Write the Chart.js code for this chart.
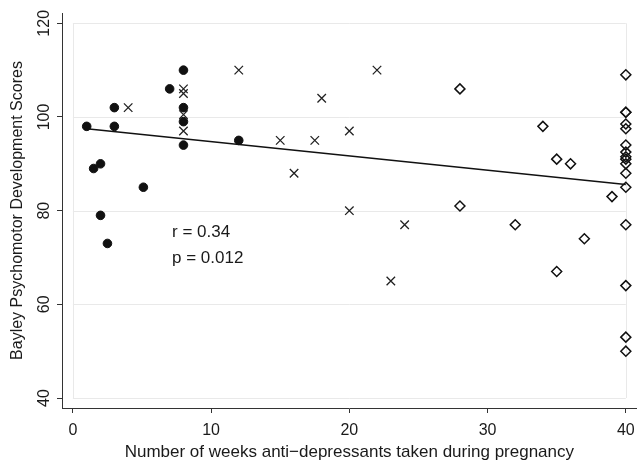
<!DOCTYPE html>
<html>
<head>
<meta charset="utf-8">
<script src="https://cdn.jsdelivr.net/npm/chart.js@4.4.1/dist/chart.umd.min.js"></script>
<style>
    html, body { margin: 0; padding: 0; background: #fff; }
    #wrap { width: 644px; height: 463px; }
</style>
</head>
<body>
<div id="wrap"><canvas id="scoreChart"></canvas></div>
<script>
// weeks on anti-depressants vs Bayley score, three groups
const circleWeeks = [1, 3, 3, 7, 8, 8, 8, 8, 12, 1.5, 2, 5.1, 2, 2.5]
const circleScores = [98, 102, 98, 106, 110, 102, 99, 94, 95, 89, 90, 85, 79, 73]

const crossWeeks = [4, 8, 8, 8, 8, 12, 15, 16, 17.5, 18, 20, 20, 22, 23, 24]
const crossScores = [102, 106, 105, 100.5, 97, 110, 95, 88, 95, 104, 97, 80, 110, 65, 77]

const diamondWeeks = [28, 28, 32, 34, 35, 35, 36, 37, 39,
    40, 40, 40, 40, 40, 40, 40, 40, 40, 40, 40, 40, 40, 40, 40, 40]
const diamondScores = [106, 81, 77, 98, 91, 67, 90, 74, 83,
    109, 101, 101, 98.5, 97.5, 94, 92.5, 91.5, 91, 90, 88, 85, 77, 64, 53, 50]

// fitted line end points
const fitWeeks = [1, 40]
const fitScores = [97.5, 85.6]

const xTicks = [0, 10, 20, 30, 40]
const yTicks = [40, 60, 80, 100, 120]

const statLines = ['r = 0.34', 'p = 0.012']

const toPoints = (xs, ys) => xs.map((x, i) => ({ x: x, y: ys[i] }))

document.addEventListener("DOMContentLoaded", () => {

    const family = '"Liberation Sans", Arial, sans-serif'
    Chart.defaults.font.family = family
    Chart.defaults.font.size = 16
    Chart.defaults.color = '#1a1a1a'

    const axisColor = '#333333'
    const gridColor = '#e9e9e9'

    // light box + horizontal grid, only inside the 0-40 / 40-120 region
    const plotBox = {
        id: 'plotBox',
        beforeDatasetsDraw(chart) {
            const { ctx, scales: { x, y } } = chart
            const x0 = x.getPixelForValue(xTicks[0])
            const x1 = x.getPixelForValue(xTicks[xTicks.length - 1])
            const y0 = y.getPixelForValue(yTicks[0])
            const y1 = y.getPixelForValue(yTicks[yTicks.length - 1])
            ctx.save()
            ctx.strokeStyle = gridColor
            ctx.lineWidth = 1
            ctx.beginPath()
            yTicks.forEach(v => {
                const py = Math.round(y.getPixelForValue(v)) + 0.5
                ctx.moveTo(x0, py)
                ctx.lineTo(x1, py)
            })
            ctx.moveTo(Math.round(x0) + 0.5, y0)
            ctx.lineTo(Math.round(x0) + 0.5, y1)
            ctx.moveTo(Math.round(x1) + 0.5, y0)
            ctx.lineTo(Math.round(x1) + 0.5, y1)
            ctx.stroke()
            ctx.restore()
        }
    }

    const statText = {
        id: 'statText',
        afterDatasetsDraw(chart) {
            const { ctx, scales: { x, y } } = chart
            ctx.save()
            ctx.fillStyle = '#1a1a1a'
            ctx.font = '17px ' + family
            ctx.textAlign = 'left'
            ctx.textBaseline = 'middle'
            const px = x.getPixelForValue(7.17)
            ctx.fillText(statLines[0], px, y.getPixelForValue(75.4))
            ctx.fillText(statLines[1], px, y.getPixelForValue(69.9))
            ctx.restore()
        }
    }

    new Chart(
        document.getElementById("scoreChart"),
        {
            type: "scatter",
            data: {
                datasets: [
                    {
                        data: toPoints(circleWeeks, circleScores),
                        pointStyle: 'circle',
                        pointRadius: 4.3,
                        pointBorderWidth: 1,
                        backgroundColor: '#111',
                        borderColor: '#111'
                    },
                    {
                        data: toPoints(crossWeeks, crossScores),
                        pointStyle: 'crossRot',
                        pointRadius: 6,
                        pointBorderWidth: 1.3,
                        backgroundColor: '#222',
                        borderColor: '#222'
                    },
                    {
                        data: toPoints(diamondWeeks, diamondScores),
                        pointStyle: 'rectRot',
                        pointRadius: 5,
                        pointBorderWidth: 1.5,
                        backgroundColor: 'rgba(0,0,0,0)',
                        borderColor: '#111'
                    },
                    {
                        type: 'line',
                        data: toPoints(fitWeeks, fitScores),
                        borderColor: '#111',
                        borderWidth: 1.4,
                        pointRadius: 0,
                        fill: false
                    }
                ]
            },
            options: {
                responsive: true,
                maintainAspectRatio: false,
                animation: false,
                layout: {
                    padding: { top: 13, right: 1, left: 0, bottom: 0 }
                },
                plugins: {
                    legend: { display: false },
                    tooltip: { enabled: false }
                },
                scales: {
                    x: {
                        type: 'linear',
                        min: -0.787,
                        max: 40.787,
                        afterBuildTicks: scale => {
                            scale.ticks = xTicks.map(v => ({ value: v }))
                        },
                        afterFit: scale => { scale.height = 55 },
                        grid: {
                            drawOnChartArea: false,
                            drawTicks: true,
                            tickLength: 5,
                            color: axisColor
                        },
                        border: { display: true, color: axisColor, width: 1 },
                        ticks: { padding: 7.5, maxRotation: 0 },
                        title: {
                            display: true,
                            text: 'Number of weeks anti\u2212depressants taken during pregnancy',
                            font: { size: 17 },
                            padding: { top: 0, bottom: 0.8 }
                        }
                    },
                    y: {
                        type: 'linear',
                        min: 37.87,
                        max: 122.2,
                        afterBuildTicks: scale => {
                            scale.ticks = yTicks.map(v => ({ value: v }))
                        },
                        afterFit: scale => { scale.width = 62 },
                        grid: {
                            drawOnChartArea: false,
                            drawTicks: true,
                            tickLength: 5,
                            color: axisColor
                        },
                        border: { display: true, color: axisColor, width: 1 },
                        ticks: {
                            padding: -0.5,
                            minRotation: 90,
                            maxRotation: 90,
                            crossAlign: 'center'
                        },
                        title: {
                            display: true,
                            text: 'Bayley Psychomotor Development Scores',
                            font: { size: 16 },
                            padding: { top: 7.8, bottom: 0 }
                        }
                    }
                }
            },
            plugins: [plotBox, statText]
        }
    )

})
</script>
</body>
</html>
